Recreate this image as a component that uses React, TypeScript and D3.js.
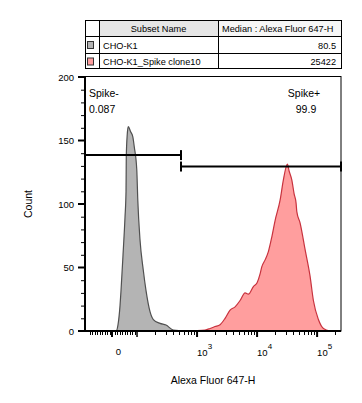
import * as d3 from 'd3';

// histogram data: fluorescence value (Alexa Fluor 647-H) vs count
const choValues = [-108, 16, 24, 32, 36, 44, 52, 56, 57, 61, 65, 74, 83, 89, 99, 103, 112, 127, 141, 165, 187, 242, 304, 402, 670];
const choCounts = [0, 0, 5, 20, 32, 60, 90, 110, 137, 155, 161, 157, 153, 145, 127, 103, 72, 48, 32, 15, 9, 6, 4.7, 0.8, 0];

const spikeValues = [521, 926, 1359, 1648, 1995, 2417, 2929, 3548, 4300, 5210, 6310, 7161, 8675, 10000, 11220, 11970, 13600, 15420, 17580, 19950, 24170, 27420, 31990, 34150, 37860, 41400, 44670, 45900, 52100, 63100, 76400, 86700, 105100, 127400, 164700];
const spikeCounts = [0, 0.3, 0.8, 2, 3.5, 5, 10, 16.5, 19, 24, 30, 29, 35, 38, 45, 50.5, 56, 62.5, 74, 87, 103, 119, 131.5, 126, 119, 108, 100.5, 94, 85, 64, 43, 24, 9, 2, 0];

const subsetNames = ['CHO-K1', 'CHO-K1_Spike clone10'];
const subsetMedians = ['80.5', '25422'];
const subsetColors = ['#b4b4b4', '#ff9e9e'];
const subsetStrokes = ['#505050', '#c8323e'];

const gateNames = ['Spike-', 'Spike+'];
const gatePercents = ['0.087', '99.9'];
const gateFrom = [-108, 540];
const gateTo = [540, 2.5e5];
const gateLevels = [138.5, 129.5];

const yTicks = [0, 50, 100, 150, 200];
const xMajor = [0, 1000, 10000, 100000];
const xMajorLabels = ['0', '3', '4', '5'];

const W = 362, H = 403;
const L = 85, R = 341, T = 77, B = 331;
const FONT = 'Liberation Sans, Arial, sans-serif';

// logicle-like transform: linear within ±100, log beyond
function fwd(v: number) {
  const a = Math.abs(v);
  const t = a <= 100 ? a / 100 : 1 + 2.4 * Math.log10(a / 100);
  return Math.sign(v) * t;
}

export default function App() {
  const xLin = d3.scaleLinear().domain([fwd(-108), fwd(2.5e5)]).range([L, R]);
  const x = (v: number) => xLin(fwd(v));
  const y = d3.scaleLinear().domain([0, 200]).range([B, T]);

  const area = d3.area<[number, number]>()
    .x((d) => x(d[0]))
    .y0(B)
    .y1((d) => y(d[1]))
    .curve(d3.curveMonotoneX);
  const line = d3.line<[number, number]>()
    .x((d) => x(d[0]))
    .y((d) => y(d[1]))
    .curve(d3.curveMonotoneX);

  const series = [
    choValues.map((v, i) => [v, choCounts[i]] as [number, number]),
    spikeValues.map((v, i) => [v, spikeCounts[i]] as [number, number]),
  ];

  const yMinor = d3.range(0, 201, 10).filter((v) => v % 50 !== 0);
  const xMinor: number[] = [];
  for (let i = 1; i <= 9; i++) { xMinor.push(-10 * i, 10 * i); }
  [100, 1000, 10000].forEach((d) => { for (let k = 2; k <= 9; k++) xMinor.push(d * k); });
  xMinor.push(200000);

  // table geometry
  const tL = 85, tR = 342, c1 = 99, c2 = 218;
  const rows = [20, 36, 53, 69];

  return (
    <svg width={W} height={H} style={{ position: 'absolute', left: 0, top: 0, background: '#fff' }} fontFamily={FONT}>
      {/* legend table */}
      <rect x={c1} y={rows[0]} width={c2 - c1} height={rows[1] - rows[0]} fill="#e6e6e6" />
      <rect x={c2} y={rows[0]} width={tR - c2} height={rows[1] - rows[0]} fill="#f6f6f6" />
      <rect x={tL + 0.5} y={rows[0] + 0.5} width={tR - tL - 1} height={rows[3] - rows[0] - 1} fill="none" stroke="#000" />
      {rows.slice(1, 3).map((r) => (
        <line key={r} x1={tL} x2={tR} y1={r + 0.5} y2={r + 0.5} stroke="#000" />
      ))}
      {[c1, c2].map((c) => (
        <line key={c} x1={c + 0.5} x2={c + 0.5} y1={rows[0]} y2={rows[3]} stroke="#000" />
      ))}
      <text x={(c1 + c2) / 2} y={31.5} fontSize={9.2} textAnchor="middle" fill="#000">Subset Name</text>
      <text x={c2 + 4} y={31.5} fontSize={9.2} fill="#000">Median : Alexa Fluor 647-H</text>
      {subsetNames.map((n, i) => {
        const cy = (rows[i + 1] + rows[i + 2]) / 2 + 0.5;
        return (
          <g key={n}>
            <rect x={87.5} y={cy - 3.5} width={6} height={7} fill={subsetColors[i]} stroke="#333" />
            <text x={c1 + 4} y={cy + 3.5} fontSize={9.2} fill="#000">{n}</text>
            <text x={tR - 6} y={cy + 3.5} fontSize={9.2} textAnchor="end" fill="#000">{subsetMedians[i]}</text>
          </g>
        );
      })}

      {/* histograms */}
      {series.map((s, i) => (
        <g key={i}>
          <path d={area(s) || ''} fill={subsetColors[i]} />
          <path d={line(s) || ''} fill="none" stroke={subsetStrokes[i]} strokeWidth={1.2} />
        </g>
      ))}

      {/* frame */}
      <rect x={L} y={T - 0.5} width={R - L} height={B - T + 0.5} fill="none" stroke="#000" strokeWidth={1} />
      <line x1={L} x2={L} y1={T - 1} y2={B + 1} stroke="#000" strokeWidth={2} />
      <line x1={L - 1} x2={R} y1={B} y2={B} stroke="#000" strokeWidth={2} />

      {/* y axis */}
      {yTicks.map((t) => (
        <g key={t}>
          <line x1={L - 7} x2={L} y1={y(t)} y2={y(t)} stroke="#000" strokeWidth={2} />
          <text x={L - 11} y={y(t) + 3.5} fontSize={9.5} textAnchor="end" fill="#000">{t}</text>
        </g>
      ))}
      {yMinor.map((t) => (
        <line key={t} x1={L - 4} x2={L} y1={y(t) + 0.5} y2={y(t) + 0.5} stroke="#000" strokeWidth={1} />
      ))}

      {/* x axis */}
      {xMinor.map((v) => (
        <line key={v} x1={Math.round(x(v)) + 0.5} x2={Math.round(x(v)) + 0.5} y1={B} y2={B + 4} stroke="#000" strokeWidth={1} />
      ))}
      <line x1={x(100)} x2={x(100)} y1={B} y2={B + 6} stroke="#000" strokeWidth={1.5} />
      {xMajor.map((v, i) => (
        <g key={v}>
          <line x1={x(v)} x2={x(v)} y1={B} y2={B + 6} stroke="#000" strokeWidth={2} />
          {i === 0 ? (
            <text x={x(v) + 6.5} y={355} fontSize={9.5} textAnchor="middle" fill="#000">0</text>
          ) : (
            <text x={x(v)} y={356} fontSize={9.5} fill="#000">
              10<tspan dy={-7} fontSize={8}>{xMajorLabels[i]}</tspan>
            </text>
          )}
        </g>
      ))}

      {/* gates */}
      {gateNames.map((g, i) => {
        const x1 = Math.max(L, x(gateFrom[i]));
        const x2 = Math.min(R, x(gateTo[i]));
        const gy = y(gateLevels[i]);
        return (
          <g key={g}>
            <line x1={x1} x2={x2} y1={gy} y2={gy} stroke="#000" strokeWidth={2} />
            {i === 0 ? (
              <line x1={x2} x2={x2} y1={gy - 5} y2={gy + 5} stroke="#000" strokeWidth={2} />
            ) : (
              <>
                <line x1={x1} x2={x1} y1={gy - 5} y2={gy + 5} stroke="#000" strokeWidth={2} />
                <line x1={x2} x2={x2} y1={gy - 5} y2={gy + 5} stroke="#000" strokeWidth={2} />
              </>
            )}
          </g>
        );
      })}
      <text x={89} y={97} fontSize={10.5} fill="#000">{gateNames[0]}</text>
      <text x={89} y={113} fontSize={10.5} fill="#000">{gatePercents[0]}</text>
      <text x={304} y={97} fontSize={10.5} textAnchor="middle" fill="#000">{gateNames[1]}</text>
      <text x={306} y={113} fontSize={10.5} textAnchor="middle" fill="#000">{gatePercents[1]}</text>

      {/* axis titles */}
      <text transform={`translate(32,${(T + B) / 2}) rotate(-90)`} fontSize={10.5} textAnchor="middle" fill="#000">Count</text>
      <text x={(L + R) / 2} y={384} fontSize={10.5} textAnchor="middle" fill="#000">Alexa Fluor 647-H</text>
    </svg>
  );
}
